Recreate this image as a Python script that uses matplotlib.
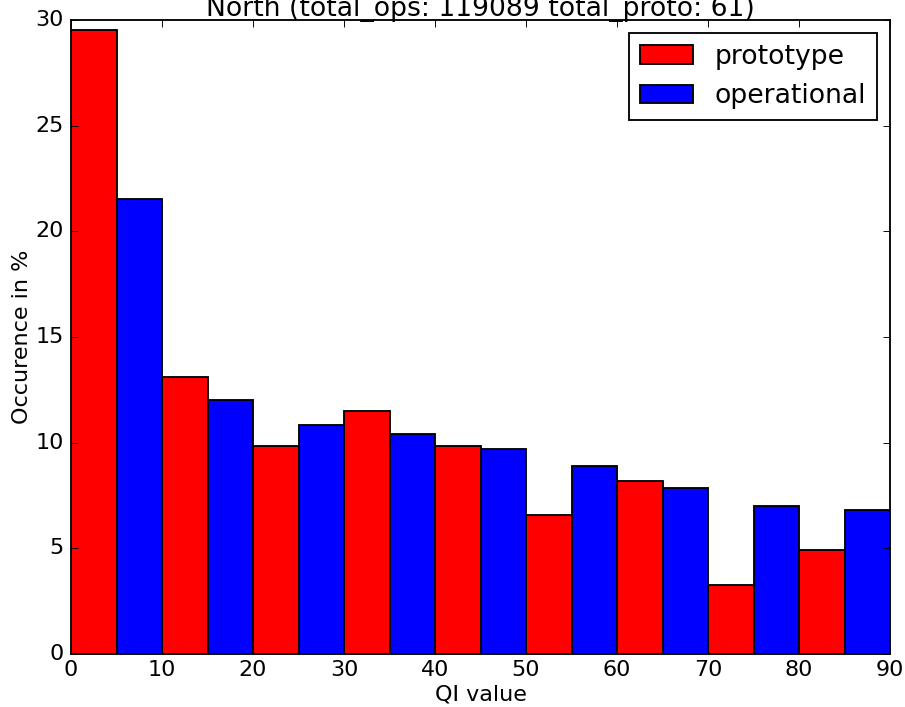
import matplotlib
matplotlib.use("Agg")
import matplotlib.pyplot as plt
import numpy as np

plt.style.use('classic')

bin_starts = [0, 10, 20, 30, 40, 50, 60, 70, 80]
prototype = [29.51, 13.11, 9.84, 11.48, 9.84, 6.56, 8.20, 3.28, 4.92]
operational = [21.53, 12.02, 10.84, 10.41, 9.70, 8.90, 7.86, 7.00, 6.81]
title = "North (total_ops: 119089 total_proto: 61)"

DPI = 133.33
fig = plt.figure(figsize=(905/DPI, 707/DPI), dpi=DPI, facecolor='white')
ax = fig.add_axes([71/905, 53/707, (890-71)/905, (654-20)/707])

x = np.array(bin_starts, dtype=float)
ax.bar(x, prototype, width=5, align='edge', color='red', edgecolor='black', label='prototype')
ax.bar(x + 5, operational, width=5, align='edge', color='blue', edgecolor='black', label='operational')

ax.set_xlim(0, 90)
ax.set_ylim(0, 30)
ax.set_xticks(range(0, 91, 10))
ax.set_yticks(range(0, 31, 5))
ax.tick_params(axis='x', pad=3)
ax.set_xlabel('QI value', labelpad=2.5)
ax.set_ylabel('Occurence in %', labelpad=2)
ax.set_title(title, pad=2)
ax.legend(loc='upper right')

fig.savefig('out.png', dpi=DPI, facecolor='white')
